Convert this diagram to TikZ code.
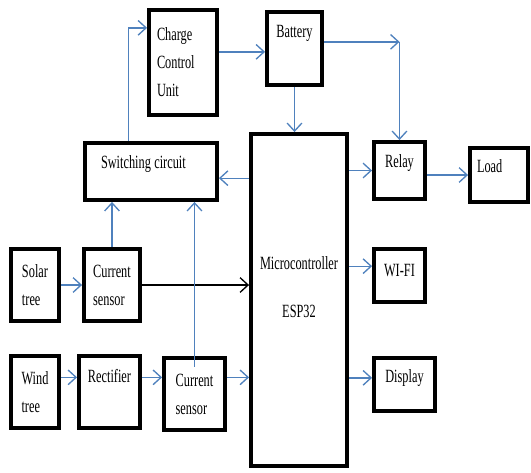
\documentclass[tikz,border=0pt]{standalone}
\usepackage{fontspec}
\setmainfont{Liberation Serif}[FakeStretch=0.66]
\usepackage{tikz}
\usetikzlibrary{arrows.meta}
\usepackage{xcolor}
\definecolor{linkblue}{RGB}{79,129,189}

\begin{document}
\begin{tikzpicture}[
    x=0.75pt, y=-0.75pt,
    box/.style={draw, line width=2.9pt, align=left, font=\fontsize{14}{21}\selectfont},
    boxsize/.style 2 args={minimum width=#1*0.75pt, minimum height=#2*0.75pt},
    lift/.style={text depth=#1},
    link/.style={draw=linkblue, line width=1pt, -{Straight Barb[length=6pt,width=11pt]}},
    blacklink/.style={link, draw=black}
]
    \useasboundingbox (0,0) rectangle (531,472);

    % Nodes
    \node[box, boxsize={68}{105}, text width=39pt] (ccu) at (183,62.5) {Charge\\Control\\Unit};
    \node[box, boxsize={55}{73}, lift=25pt] (bat) at (294.5,48.5) {Battery};
    \node[box, boxsize={132}{57}, text width=75pt, lift=14pt] (sw) at (151,171.5) {Switching\hspace{2.5pt}circuit};
    \node[box, boxsize={96}{332}, align=center, lift=19pt] (mcu) at (299,300) {Microcontroller\\[15pt]ESP32};
    \node[box, boxsize={51}{57}, lift=14pt] (relay) at (399.5,170.5) {Relay};
    \node[box, boxsize={58}{54}, text width=33pt, lift=13pt] (load) at (499,175) {Load};
    \node[box, boxsize={48}{72}] (solar) at (35,285) {Solar\\tree};
    \node[box, boxsize={56}{72}] (cs1) at (112,285) {Current\\sensor};
    \node[box, boxsize={48}{72}] (wind) at (35,392) {Wind\\tree};
    \node[box, boxsize={61}{72}, lift=24pt] (rect) at (109.5,392) {Rectifier};
    \node[box, boxsize={61}{72}] (cs2) at (194.5,394) {Current\\sensor};
    \node[box, boxsize={51}{53}, lift=8pt] (wifi) at (399.5,275.5) {WI-FI};
    \node[box, boxsize={61}{53}, lift=12pt] (disp) at (404.5,384.5) {Display};

    % Helper points
    \coordinate (c2) at ([yshift=8pt]ccu.east);
    \coordinate (c3) at ([yshift=5pt]bat.east);
    \coordinate (c5) at ([yshift=-5pt]sw.east);
    \coordinate (c9) at ([yshift=11pt]wind.east);
    \coordinate (c10) at ([yshift=7pt]wifi.west);
    \coordinate (c11) at ([yshift=5pt]disp.west);

    % Arrows
    \draw[link] ([xshift=-17pt]sw.north) |- ([yshift=26pt]ccu.west);
    \draw[link] (c2) -- (c2 -| bat.west);
    \draw[link] (c3) -- (c3 -| relay.north);
    \draw[link] (c3 -| relay.north) -- (relay.north);
    \draw[link] (bat.south) -- (bat.south |- mcu.north);
    \draw[link] (c5 -| mcu.west) -- (c5);
    \draw[link] (mcu.east |- relay.west) -- (relay.west);
    \draw[link] (relay.east |- load.west) -- (load.west);
    \draw[link] (solar) -- (cs1);
    \draw[blacklink] (cs1) -- (cs1 -| mcu.west);
    \draw[link] (cs1) -- (cs1 |- sw.south);
    \draw[link] ([yshift=-8pt]cs2.north) -- (cs2.north |- sw.south);
    \draw[link] (c9) -- (c9 -| rect.west);
    \draw[link] (c9 -| rect.east) -- (c9 -| cs2.west);
    \draw[link] (c9 -| cs2.east) -- (c9 -| mcu.west);
    \draw[link] (c10 -| mcu.east) -- (c10);
    \draw[link] (c11 -| mcu.east) -- (c11);
\end{tikzpicture}
\end{document}
